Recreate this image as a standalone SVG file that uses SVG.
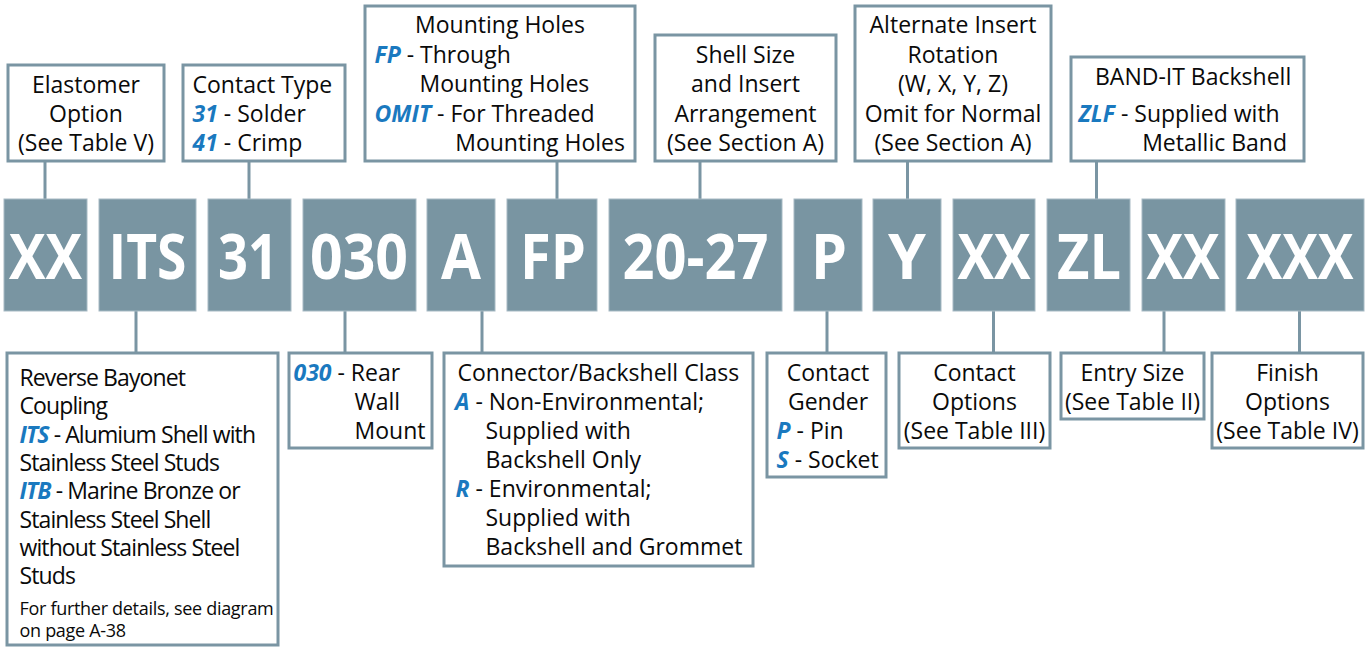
<svg xmlns="http://www.w3.org/2000/svg" width="1370" height="647" viewBox="0 0 1370 647">
<style>
.box{fill:#fff;stroke:#7a95a3;stroke-width:3}
.code{fill:#7995a2;stroke:#a7bac4;stroke-width:1}
.t{font-family:'Open Sans','Noto Sans',sans-serif;font-size:23px;fill:#0a0a0a}
.c{text-anchor:middle}
.e{text-anchor:end}
.k{fill:#1a79bf;font-weight:700;font-style:italic}
.tight{letter-spacing:-0.9px}
.small{font-size:18px;letter-spacing:-0.3px}
.ct{font-family:'Open Sans','Noto Sans',sans-serif;font-weight:700;font-size:62px;fill:#fff;text-anchor:middle}
.conn line{stroke:#7a95a3;stroke-width:3}
</style>
<rect width="1370" height="647" fill="#fff"/>

<g id="connectors" class="conn">
<line x1="45" y1="161" x2="45" y2="199"/>
<line x1="249" y1="161" x2="249" y2="199"/>
<line x1="557" y1="161" x2="557" y2="199"/>
<line x1="700" y1="161" x2="700" y2="199"/>
<line x1="907.5" y1="161" x2="907.5" y2="199"/>
<line x1="1096.5" y1="161" x2="1096.5" y2="199"/>
<line x1="136" y1="311" x2="136" y2="353"/>
<line x1="345" y1="311" x2="345" y2="353"/>
<line x1="482" y1="311" x2="482" y2="353"/>
<line x1="827" y1="311" x2="827" y2="353"/>
<line x1="993.5" y1="311" x2="993.5" y2="353"/>
<line x1="1164" y1="311" x2="1164" y2="353"/>
<line x1="1299.5" y1="311" x2="1299.5" y2="353"/>
</g>

<g id="code-xx1"><rect class="code" x="4" y="199" width="83" height="112"/><text class="ct" x="45.5" y="279" textLength="73" lengthAdjust="spacingAndGlyphs">XX</text></g>
<g id="code-its"><rect class="code" x="99" y="199" width="97" height="112"/><text class="ct" x="147.5" y="279" textLength="78" lengthAdjust="spacingAndGlyphs">ITS</text></g>
<g id="code-31"><rect class="code" x="208" y="199" width="83" height="112"/><text class="ct" x="248" y="279" textLength="60" lengthAdjust="spacingAndGlyphs">31</text></g>
<g id="code-030"><rect class="code" x="303" y="199" width="113" height="112"/><text class="ct" x="359" y="279" textLength="98" lengthAdjust="spacingAndGlyphs">030</text></g>
<g id="code-a"><rect class="code" x="427" y="199" width="68" height="112"/><text class="ct" x="461" y="279" textLength="40" lengthAdjust="spacingAndGlyphs">A</text></g>
<g id="code-fp"><rect class="code" x="507" y="199" width="90" height="112"/><text class="ct" x="553" y="279" textLength="66" lengthAdjust="spacingAndGlyphs">FP</text></g>
<g id="code-2027"><rect class="code" x="609" y="199" width="173" height="112"/><text class="ct" x="695.5" y="279" textLength="146" lengthAdjust="spacingAndGlyphs">20-27</text></g>
<g id="code-p"><rect class="code" x="794" y="199" width="68" height="112"/><text class="ct" x="829" y="279" textLength="36" lengthAdjust="spacingAndGlyphs">P</text></g>
<g id="code-y"><rect class="code" x="873" y="199" width="68" height="112"/><text class="ct" x="907" y="279" textLength="38" lengthAdjust="spacingAndGlyphs">Y</text></g>
<g id="code-xx2"><rect class="code" x="953" y="199" width="82" height="112"/><text class="ct" x="994" y="279" textLength="73" lengthAdjust="spacingAndGlyphs">XX</text></g>
<g id="code-zl"><rect class="code" x="1047" y="199" width="83" height="112"/><text class="ct" x="1089" y="279" textLength="64" lengthAdjust="spacingAndGlyphs">ZL</text></g>
<g id="code-xx3"><rect class="code" x="1142" y="199" width="83" height="112"/><text class="ct" x="1183" y="279" textLength="73" lengthAdjust="spacingAndGlyphs">XX</text></g>
<g id="code-xxx"><rect class="code" x="1236" y="199" width="128" height="112"/><text class="ct" x="1300" y="279" textLength="107" lengthAdjust="spacingAndGlyphs">XXX</text></g>

<g id="elastomer">
<rect class="box" x="8" y="65" width="156" height="96"/>
<text class="t c" x="86" y="92.5">Elastomer</text>
<text class="t c" x="86" y="122">Option</text>
<text class="t c" x="86" y="151">(See Table V)</text>
</g>

<g id="contact-type">
<rect class="box" x="183" y="65" width="162" height="96"/>
<text class="t" x="192.5" y="92.5">Contact Type</text>
<text class="t" x="192.5" y="122"><tspan class="k">31</tspan> - Solder</text>
<text class="t" x="192.5" y="151"><tspan class="k">41</tspan> - Crimp</text>
</g>

<g id="mounting-holes">
<rect class="box" x="365" y="6" width="270" height="155"/>
<text class="t c" x="500" y="33">Mounting Holes</text>
<text class="t" x="374.5" y="62.5"><tspan class="k">FP</tspan> - Through</text>
<text class="t" x="419.5" y="92">Mounting Holes</text>
<text class="t" x="374.5" y="121.5"><tspan class="k">OMIT</tspan> - For Threaded</text>
<text class="t e" x="625" y="151">Mounting Holes</text>
</g>

<g id="shell-size">
<rect class="box" x="655" y="35" width="181" height="126"/>
<text class="t c" x="745.5" y="63">Shell Size</text>
<text class="t c" x="745.5" y="92">and Insert</text>
<text class="t c" x="745.5" y="121.5">Arrangement</text>
<text class="t c" x="745.5" y="151">(See Section A)</text>
</g>

<g id="alternate-rotation">
<rect class="box" x="855" y="6" width="196" height="155"/>
<text class="t c" x="953" y="33">Alternate Insert</text>
<text class="t c" x="953" y="63">Rotation</text>
<text class="t c" x="953" y="92">(W, X, Y, Z)</text>
<text class="t c" x="953" y="121.5">Omit for Normal</text>
<text class="t c" x="953" y="151">(See Section A)</text>
</g>

<g id="band-it">
<rect class="box" x="1071" y="57" width="233" height="104"/>
<text class="t" x="1095" y="84.5">BAND-IT Backshell</text>
<text class="t" x="1078.5" y="121.5"><tspan class="k">ZLF</tspan> - Supplied with</text>
<text class="t e" x="1287" y="151">Metallic Band</text>
</g>

<g id="coupling">
<rect class="box" x="7" y="353" width="271" height="292"/>
<text class="t tight" x="19.5" y="386">Reverse Bayonet</text>
<text class="t tight" x="19.5" y="414.3">Coupling</text>
<text class="t tight" x="19.5" y="442.6"><tspan class="k">ITS</tspan> - Alumium Shell with</text>
<text class="t tight" x="19.5" y="470.9">Stainless Steel Studs</text>
<text class="t tight" x="19.5" y="499.2"><tspan class="k">ITB</tspan> - Marine Bronze or</text>
<text class="t tight" x="19.5" y="527.5">Stainless Steel Shell</text>
<text class="t tight" x="19.5" y="555.8">without Stainless Steel</text>
<text class="t tight" x="19.5" y="584.1">Studs</text>
<text class="t small" x="19.5" y="615">For further details, see diagram</text>
<text class="t small" x="19.5" y="636.5">on page A-38</text>
</g>

<g id="rear-wall">
<rect class="box" x="289" y="353" width="143" height="95"/>
<text class="t" x="293.5" y="381"><tspan class="k">030</tspan> - Rear</text>
<text class="t" x="354.5" y="410">Wall</text>
<text class="t" x="354.5" y="439">Mount</text>
</g>

<g id="class">
<rect class="box" x="444" y="353" width="309" height="213"/>
<text class="t" x="457.5" y="381">Connector/Backshell Class</text>
<text class="t" x="455" y="410"><tspan class="k">A</tspan> - Non-Environmental;</text>
<text class="t" x="485.5" y="439">Supplied with</text>
<text class="t" x="485.5" y="468">Backshell Only</text>
<text class="t" x="455.5" y="497"><tspan class="k">R</tspan> - Environmental;</text>
<text class="t" x="485.5" y="526">Supplied with</text>
<text class="t" x="485.5" y="555">Backshell and Grommet</text>
</g>

<g id="gender">
<rect class="box" x="767" y="353" width="119" height="124"/>
<text class="t c" x="828" y="381">Contact</text>
<text class="t c" x="828" y="410">Gender</text>
<text class="t" x="776.5" y="439"><tspan class="k">P</tspan> - Pin</text>
<text class="t" x="776.5" y="468"><tspan class="k">S</tspan> - Socket</text>
</g>

<g id="contact-options">
<rect class="box" x="899" y="353" width="151" height="95"/>
<text class="t c" x="974.5" y="381">Contact</text>
<text class="t c" x="974.5" y="410">Options</text>
<text class="t c" x="974.5" y="439">(See Table III)</text>
</g>

<g id="entry-size">
<rect class="box" x="1061" y="353" width="143" height="66"/>
<text class="t c" x="1132.5" y="381">Entry Size</text>
<text class="t c" x="1132.5" y="410">(See Table II)</text>
</g>

<g id="finish">
<rect class="box" x="1212" y="353" width="151" height="95"/>
<text class="t c" x="1287.5" y="381">Finish</text>
<text class="t c" x="1287.5" y="410">Options</text>
<text class="t c" x="1287.5" y="439">(See Table IV)</text>
</g>
</svg>
